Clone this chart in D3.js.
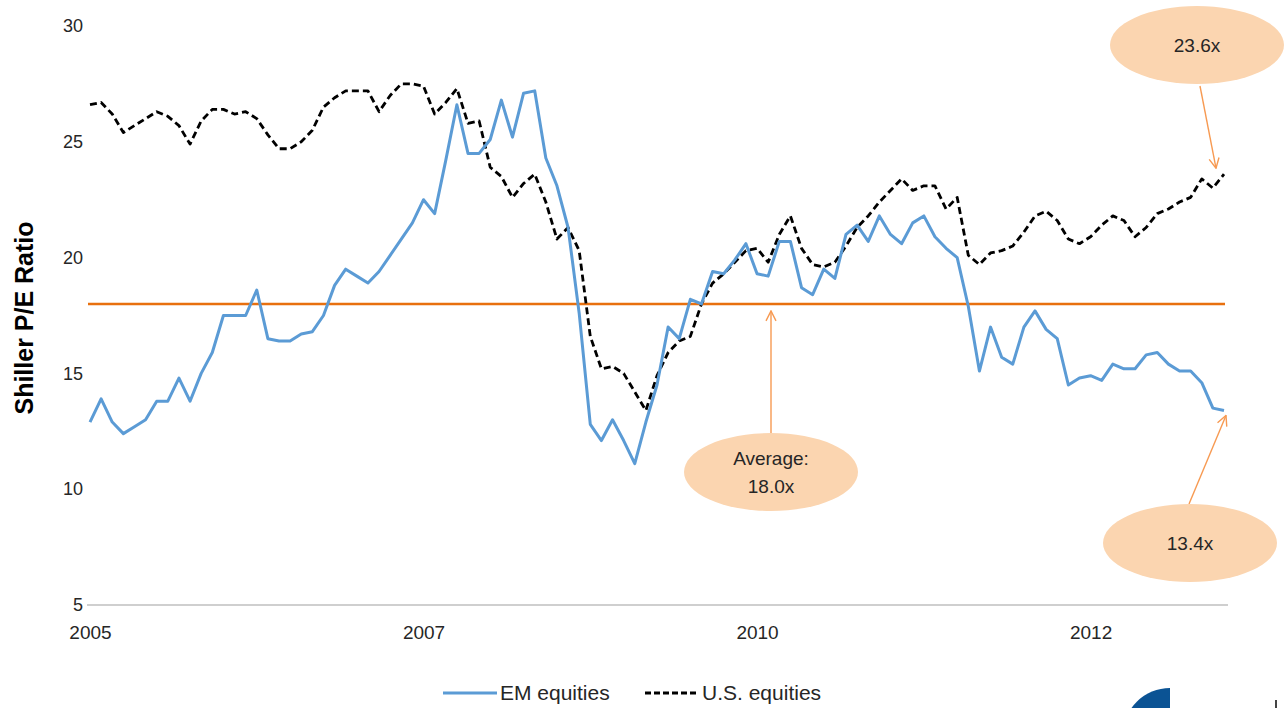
<!DOCTYPE html>
<html>
<head>
<meta charset="utf-8">
<script src="https://cdn.jsdelivr.net/npm/d3@7"></script>
<style>
  body { margin: 0; background: #fff; }
  svg { display: block; font-family: Arial, "Liberation Sans", sans-serif; }
</style>
</head>
<body>
<div id="chart"></div>
<script>
// monthly Shiller P/E, Jan 2005 .. Jul 2013
var emEquities = [
  12.9, 13.9, 12.9, 12.4, 12.7, 13.0, 13.8, 13.8, 14.8, 13.8, 15.0, 15.9, 17.5, 17.5, 17.5, 18.6, 16.5, 16.4,
  16.4, 16.7, 16.8, 17.5, 18.8, 19.5, 19.2, 18.9, 19.4, 20.1, 20.8, 21.5, 22.5, 21.9, 24.2, 26.6, 24.5,
  24.5, 25.1, 26.8, 25.2, 27.1, 27.2, 24.3, 23.1, 21.3, 17.6, 12.8, 12.1, 13.0, 12.1, 11.1, 12.9,
  14.5, 17.0, 16.5, 18.2, 18.0, 19.4, 19.3, 19.9, 20.6, 19.3, 19.2, 20.7, 20.7, 18.7, 18.4, 19.5, 19.1, 21.0,
  21.4, 20.7, 21.8, 21.0, 20.6, 21.5, 21.8, 20.9, 20.4, 20.0, 17.9, 15.1, 17.0, 15.7, 15.4, 17.0, 17.7,
  16.9, 16.5, 14.5, 14.8, 14.9, 14.7, 15.4, 15.2, 15.2, 15.8, 15.9, 15.4, 15.1, 15.1, 14.6, 13.5, 13.4
];
var usEquities = [
  26.6, 26.7, 26.2, 25.4, 25.7, 26.0, 26.3, 26.1, 25.7, 24.9, 25.9, 26.4, 26.4, 26.2, 26.3, 26.0, 25.3, 24.7, 24.7,
  25.0, 25.5, 26.5, 26.9, 27.2, 27.2, 27.2, 26.3, 27.0, 27.5, 27.5, 27.4, 26.2, 26.7, 27.3, 25.8,
  25.9, 23.9, 23.5, 22.6, 23.2, 23.6, 22.4, 20.8, 21.3, 20.3, 16.6, 15.2, 15.3, 15.0, 14.2, 13.4, 14.9,
  15.9, 16.4, 16.6, 18.0, 18.9, 19.3, 19.8, 20.3, 20.4, 19.8, 21.0, 21.8, 20.4, 19.7, 19.6, 19.8, 20.5,
  21.3, 21.8, 22.4, 22.9, 23.4, 22.9, 23.1, 23.1, 22.1, 22.6, 20.1, 19.7, 20.2, 20.3, 20.5, 21.1, 21.8,
  22.0, 21.6, 20.8, 20.6, 20.9, 21.4, 21.8, 21.6, 20.9, 21.3, 21.9, 22.1, 22.4, 22.6, 23.4, 23.0, 23.6
];
var average = 18.0;
var yTicks = [5, 10, 15, 20, 25, 30];
var xTickIndex = [0, 30, 60, 90];
var xTickLabels = ["2005", "2007", "2010", "2012"];
var seriesNames = ["EM equities", "U.S. equities"];

var width = 1286, height = 708;
var svg = d3.select("#chart").append("svg").attr("width", width).attr("height", height);

var n = emEquities.length;
var x = d3.scaleLinear().domain([0, n - 1]).range([90, 1224]);
var y = d3.scaleLinear().domain([5, 30]).range([605, 26]);

// y labels
var yAxis = svg.append("g").attr("transform", "translate(83,0)")
  .call(d3.axisLeft(y).tickValues(yTicks).tickSize(0).tickPadding(0));
yAxis.select(".domain").remove();
yAxis.selectAll("text").attr("font-size", 18).attr("fill", "#262626")
  .attr("font-family", "Arial, 'Liberation Sans', sans-serif");

svg.append("text")
  .attr("transform", "translate(33,318) rotate(-90)")
  .attr("text-anchor", "middle")
  .attr("font-size", 25).attr("font-weight", "bold").attr("fill", "#000")
  .text("Shiller P/E Ratio");

// x axis
svg.append("line")
  .attr("x1", x(0) - 3).attr("x2", x(n - 1) + 4)
  .attr("y1", y(5)).attr("y2", y(5))
  .attr("stroke", "#bfbfbf").attr("stroke-width", 1.5);

var xAxis = svg.append("g").attr("transform", "translate(0," + y(5) + ")")
  .call(d3.axisBottom(x).tickValues(xTickIndex)
    .tickFormat(function(d, i){ return xTickLabels[i]; })
    .tickSize(0).tickPadding(21));
xAxis.select(".domain").remove();
xAxis.selectAll("text").attr("font-size", 19).attr("fill", "#262626")
  .attr("font-family", "Arial, 'Liberation Sans', sans-serif");

// average line
svg.append("line")
  .attr("x1", x(0) - 2).attr("x2", x(n - 1) + 1)
  .attr("y1", y(average)).attr("y2", y(average))
  .attr("stroke", "#e8700f").attr("stroke-width", 2.5);

var line = d3.line().x(function(d, i){ return x(i); }).y(function(d){ return y(d); });

svg.append("path").datum(usEquities).attr("d", line)
  .attr("fill", "none").attr("stroke", "#000").attr("stroke-width", 2.8)
  .attr("stroke-dasharray", "7,4").attr("stroke-linejoin", "round");

svg.append("path").datum(emEquities).attr("d", line)
  .attr("fill", "none").attr("stroke", "#5b9bd5").attr("stroke-width", 3)
  .attr("stroke-linejoin", "round");

// callouts
var peach = "#fbd5b0", arrowCol = "#f79a52";
var defs = svg.append("defs");
defs.append("marker").attr("id", "arr").attr("viewBox", "0 0 12 12")
  .attr("refX", 11).attr("refY", 6).attr("markerWidth", 12).attr("markerHeight", 12)
  .attr("markerUnits", "userSpaceOnUse").attr("orient", "auto")
  .append("path").attr("d", "M1,1 L11,6 L1,11").attr("fill", "none")
  .attr("stroke", arrowCol).attr("stroke-width", 1.4);

function callout(cx, cy, lines, ax1, ay1, ax2, ay2) {
  svg.append("line").attr("x1", ax1).attr("y1", ay1).attr("x2", ax2).attr("y2", ay2)
    .attr("stroke", arrowCol).attr("stroke-width", 1.4).attr("marker-end", "url(#arr)");
  svg.append("ellipse").attr("cx", cx).attr("cy", cy).attr("rx", 87).attr("ry", 39)
    .attr("fill", peach);
  var t = svg.append("text").attr("x", cx).attr("text-anchor", "middle")
    .attr("font-size", 19).attr("fill", "#262626");
  lines.forEach(function(s, i){
    t.append("tspan").attr("x", cx)
      .attr("y", cy + 7 + (i - (lines.length - 1) / 2) * 28).text(s);
  });
}

var lastI = n - 1;
callout(771, 472, ["Average:", "18.0x"], 771, 433, 771, y(average) + 7);
callout(1197, 45, [usEquities[lastI].toFixed(1) + "x"], 1200, 86, x(lastI) - 8, y(usEquities[lastI]) - 6);
callout(1190, 543, [emEquities[lastI].toFixed(1) + "x"], 1189, 504, x(lastI) + 2, y(emEquities[lastI]) + 5);

// legend
var legend = svg.append("g").attr("transform", "translate(0,693)");
legend.append("line").attr("x1", 443).attr("x2", 497).attr("y1", 0).attr("y2", 0)
  .attr("stroke", "#5b9bd5").attr("stroke-width", 3);
legend.append("text").attr("x", 500).attr("y", 7).attr("font-size", 21).attr("fill", "#262626")
  .text(seriesNames[0]);
legend.append("line").attr("x1", 645).attr("x2", 699).attr("y1", 0).attr("y2", 0)
  .attr("stroke", "#000").attr("stroke-width", 2.8).attr("stroke-dasharray", "6,3");
legend.append("text").attr("x", 702).attr("y", 7).attr("font-size", 21).attr("fill", "#262626")
  .text(seriesNames[1]);

// logo fragment, bottom right
svg.append("path")
  .attr("d", d3.arc()({ innerRadius: 0, outerRadius: 47, startAngle: -Math.PI / 2, endAngle: 0 }))
  .attr("transform", "translate(1170,735)")
  .attr("fill", "#0b5394");
svg.append("rect").attr("x", 1275).attr("y", 700).attr("width", 2).attr("height", 8).attr("fill", "#444");
</script>
</body>
</html>
